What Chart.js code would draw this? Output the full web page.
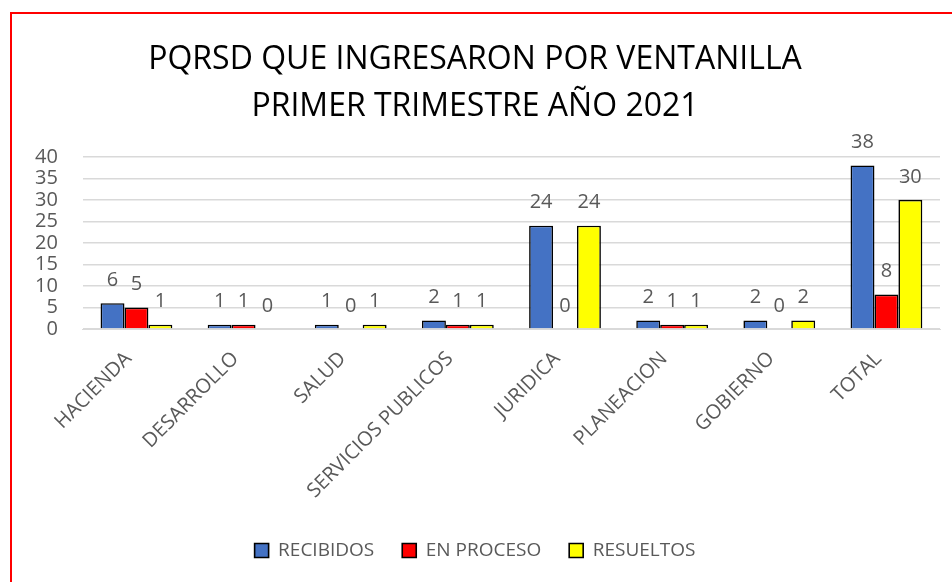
<!DOCTYPE html>
<html>
<head>
<meta charset="utf-8">
<script src="https://cdn.jsdelivr.net/npm/chart.js@4/dist/chart.umd.min.js"></script>
<style>
  html, body { margin: 0; padding: 0; background: #fff; overflow: hidden; }
  #frame {
    position: absolute; left: 10px; top: 12px;
    width: 1000px; height: 700px;
    border-left: 2px solid #ff0000; border-top: 2px solid #ff0000;
  }
  #wrap { position: absolute; left: 0; top: 0; width: 952px; height: 582px; }
</style>
</head>
<body>
<div id="frame"></div>
<div id="wrap"><canvas id="chart"></canvas></div>
<script>
// datos
const categorias = ['HACIENDA', 'DESARROLLO', 'SALUD', 'SERVICIOS PUBLICOS', 'JURIDICA', 'PLANEACION', 'GOBIERNO', 'TOTAL'];
const recibidos = [6, 1, 1, 2, 24, 2, 2, 38];
const enProceso = [5, 1, 0, 1, 0, 1, 0, 8];
const resueltos = [1, 0, 1, 1, 24, 1, 2, 30];
const ticksY = [0, 5, 10, 15, 20, 25, 30, 35, 40];

const FONT = "'Open Sans', sans-serif";
const GRIS = '#595959';

// etiquetas de valor encima de las barras
const etiquetas = {
    id: 'etiquetas',
    afterDatasetsDraw(chart) {
        const ctx = chart.ctx;
        ctx.save();
        ctx.font = '20px ' + FONT;
        ctx.fillStyle = GRIS;
        ctx.textAlign = 'center';
        ctx.textBaseline = 'bottom';
        chart.data.datasets.forEach((ds, i) => {
            const meta = chart.getDatasetMeta(i);
            meta.data.forEach((bar, j) => {
                ctx.fillText(String(ds.data[j]), bar.x, bar.y - 13);
            });
        });
        ctx.restore();
    }
};

new Chart(document.getElementById('chart'), {
    type: 'bar',
    data: {
        labels: categorias,
        datasets: [
            { label: 'RECIBIDOS', data: recibidos, backgroundColor: '#4472C4' },
            { label: 'EN PROCESO', data: enProceso, backgroundColor: '#FF0000' },
            { label: 'RESUELTOS', data: resueltos, backgroundColor: '#FFFF00' }
        ].map(d => Object.assign(d, {
            borderColor: '#000000',
            borderWidth: 1.6,
            categoryPercentage: 0.67,
            barPercentage: 1.0
        }))
    },
    options: {
        responsive: true,
        maintainAspectRatio: false,
        animation: false,
        layout: { padding: { left: 10, right: 12, top: 27, bottom: 12 } },
        plugins: {
            title: {
                display: true,
                text: ['PQRSD QUE INGRESARON POR VENTANILLA', 'PRIMER TRIMESTRE AÑO 2021'],
                color: '#000000',
                font: { family: FONT, size: 32, weight: 'normal', lineHeight: 1.45 },
                padding: { top: 10, bottom: 27 }
            },
            legend: {
                position: 'bottom',
                labels: {
                    color: GRIS,
                    font: { family: FONT, size: 19 },
                    boxWidth: 14,
                    boxHeight: 14,
                    padding: 28
                }
            },
            tooltip: { enabled: false }
        },
        scales: {
            x: {
                grid: { display: false },
                border: { color: '#d9d9d9' },
                ticks: {
                    color: GRIS,
                    font: { family: FONT, size: 20 },
                    minRotation: 45,
                    maxRotation: 45,
                    padding: 10,
                    labelOffset: -8
                }
            },
            y: {
                min: 0,
                max: 40,
                afterBuildTicks: axis => {
                    axis.ticks = ticksY.map(v => ({ value: v }));
                },
                grid: { color: '#d9d9d9', lineWidth: 1.5, drawTicks: false },
                border: { display: false },
                ticks: {
                    color: GRIS,
                    font: { family: FONT, size: 20, lineHeight: 1 },
                    autoSkip: false,
                    padding: 25
                }
            }
        }
    },
    plugins: [etiquetas]
});
</script>
</body>
</html>
